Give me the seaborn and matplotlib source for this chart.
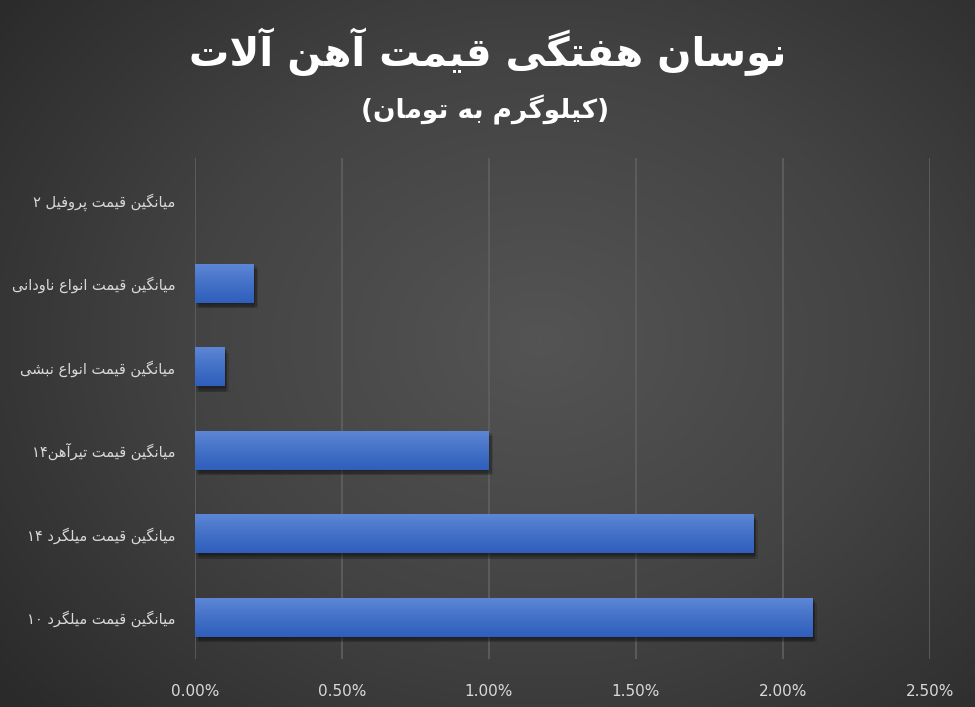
import re
import numpy as np
import matplotlib
matplotlib.use("Agg")
import matplotlib.pyplot as plt
import matplotlib.patheffects as pe
from matplotlib.colors import LinearSegmentedColormap
from matplotlib.ticker import PercentFormatter
import seaborn as sns

# داده‌ها
title = "نوسان هفتگی قیمت آهن آلات"
subtitle = "(کیلوگرم به تومان)"
categories = [
    "میانگین قیمت پروفیل ۲",
    "میانگین قیمت انواع ناودانی",
    "میانگین قیمت انواع نبشی",
    "میانگین قیمت تیرآهن۱۴",
    "میانگین قیمت میلگرد ۱۴",
    "میانگین قیمت میلگرد ۱۰",
]
values = [0.0, 0.2, 0.1, 1.0, 1.9, 2.1]  # percent
x_ticks = [0.0, 0.5, 1.0, 1.5, 2.0, 2.5]

# شکل‌دهی ساده حروف فارسی (matplotlib خودش این کار را نمی‌کند)
FORMS = {
    "ا": ("\uFE8D", "\uFE8E", None, None),
    "آ": ("\uFE81", "\uFE82", None, None),
    "ب": ("\uFE8F", "\uFE90", "\uFE91", "\uFE92"),
    "پ": ("\uFB56", "\uFB57", "\uFB58", "\uFB59"),
    "ت": ("\uFE95", "\uFE96", "\uFE97", "\uFE98"),
    "د": ("\uFEA9", "\uFEAA", None, None),
    "ر": ("\uFEAD", "\uFEAE", None, None),
    "ز": ("\uFEAF", "\uFEB0", None, None),
    "س": ("\uFEB1", "\uFEB2", "\uFEB3", "\uFEB4"),
    "ش": ("\uFEB5", "\uFEB6", "\uFEB7", "\uFEB8"),
    "ع": ("\uFEC9", "\uFECA", "\uFECB", "\uFECC"),
    "ف": ("\uFED1", "\uFED2", "\uFED3", "\uFED4"),
    "ق": ("\uFED5", "\uFED6", "\uFED7", "\uFED8"),
    "ک": ("\uFB8E", "\uFB8F", "\uFB90", "\uFB91"),
    "گ": ("\uFB92", "\uFB93", "\uFB94", "\uFB95"),
    "ل": ("\uFEDD", "\uFEDE", "\uFEDF", "\uFEE0"),
    "م": ("\uFEE1", "\uFEE2", "\uFEE3", "\uFEE4"),
    "ن": ("\uFEE5", "\uFEE6", "\uFEE7", "\uFEE8"),
    "ه": ("\uFEE9", "\uFEEA", "\uFEEB", "\uFEEC"),
    "و": ("\uFEED", "\uFEEE", None, None),
    "ی": ("\uFBFC", "\uFBFD", "\uFBFE", "\uFBFF"),
}
LAMALEF = {"ا": ("\uFEFB", "\uFEFC"), "آ": ("\uFEF5", "\uFEF6")}
DIGITS = "0123456789۰۱۲۳۴۵۶۷۸۹"
MIRROR = str.maketrans("()", ")(")


def joins_left(c):
    return c in FORMS and FORMS[c][2] is not None


def fa(text):
    chars = list(text)
    n = len(chars)
    out = []
    i = 0
    while i < n:
        c = chars[i]
        if c not in FORMS:
            out.append(c)
            i += 1
            continue
        conn_prev = i > 0 and joins_left(chars[i - 1])
        if c == "ل" and i + 1 < n and chars[i + 1] in LAMALEF:
            iso, fin = LAMALEF[chars[i + 1]]
            out.append(fin if conn_prev else iso)
            i += 2
            continue
        conn_next = joins_left(c) and i + 1 < n and chars[i + 1] in FORMS
        iso, fin, ini, med = FORMS[c]
        if conn_prev and conn_next:
            out.append(med)
        elif conn_prev:
            out.append(fin)
        elif conn_next:
            out.append(ini)
        else:
            out.append(iso)
        i += 1
    s = "".join(out)
    runs = re.findall(r"[%s]+|[^%s]+" % (DIGITS, DIGITS), s)
    vis = []
    for r in reversed(runs):
        if r[0] in DIGITS:
            vis.append(r)
        else:
            vis.append(r[::-1].translate(MIRROR))
    return "".join(vis)


sns.set_theme(style="white")
plt.rcParams["font.family"] = ["DejaVu Sans"]

fig = plt.figure(figsize=(9.75, 7.07), dpi=100)

# پس‌زمینه با گرادیان شعاعی ملایم
bg = fig.add_axes([0, 0, 1, 1], zorder=-10)
yy, xx = np.mgrid[0:707, 0:975]
r = np.sqrt(((xx - 540) / 700.0) ** 2 + ((yy - 340) / 560.0) ** 2)
bg_cmap = LinearSegmentedColormap.from_list("bg", ["#545454", "#434343", "#2a2a2a"])
bg.imshow(np.clip(r, 0, 1), cmap=bg_cmap, vmin=0, vmax=1, aspect="auto")
bg.set_axis_off()

ax = fig.add_axes([0.2, 0.068, 0.7538, 0.7085])
ax.set_facecolor("none")

labels = [fa(c) for c in categories]
sns.barplot(x=values, y=labels, orient="h", width=0.47, color="#4472c4",
            linewidth=0, edgecolor="none", ax=ax, zorder=3)

xlim = (0, 2.5)
ylim = ax.get_ylim()

# سایه نرم: چند لایه سایه کم‌رنگ
soft_shadow = [pe.SimplePatchShadow(offset=(dx, -dy), shadow_rgbFace="black", alpha=0.12)
               for dx, dy in [(1, 1), (2, 2), (2, 3), (3, 4), (1, 4)]]

bar_cmap = LinearSegmentedColormap.from_list("bar", ["#5f87d6", "#4472c8", "#2f5fbc"])
grad = np.linspace(0, 1, 64).reshape(-1, 1)
for p in ax.patches:
    x0, y0 = p.get_x(), p.get_y()
    w, h = p.get_width(), p.get_height()
    if w <= 0:
        p.set_visible(False)
        continue
    p.set_path_effects(soft_shadow + [pe.Normal()])
    im = ax.imshow(grad, cmap=bar_cmap, extent=(x0, x0 + w, y0, y0 + h),
                   origin="lower", aspect="auto", zorder=4)
    im.set_clip_path(p)

ax.set_xlim(*xlim)
ax.set_ylim(ylim)
ax.set_xticks(x_ticks)
ax.xaxis.set_major_formatter(PercentFormatter(decimals=2))
ax.grid(axis="x", color="#606060", linewidth=1.2, zorder=0)
ax.grid(axis="y", visible=False)
for s in ax.spines.values():
    s.set_visible(False)
ax.tick_params(axis="x", colors="#d9d9d9", labelsize=11, length=0, pad=18)
ax.tick_params(axis="y", colors="#d9d9d9", labelsize=10.5, length=0, pad=14)
ax.set_xlabel("")
ax.set_ylabel("")

fig.text(0.5, 0.927, fa(title), ha="center", va="center", color="white",
         fontsize=29, fontweight="bold")
fig.text(0.498, 0.845, fa(subtitle), ha="center", va="center", color="white",
         fontsize=19, fontweight="bold")

fig.savefig("out.png", dpi=100)
